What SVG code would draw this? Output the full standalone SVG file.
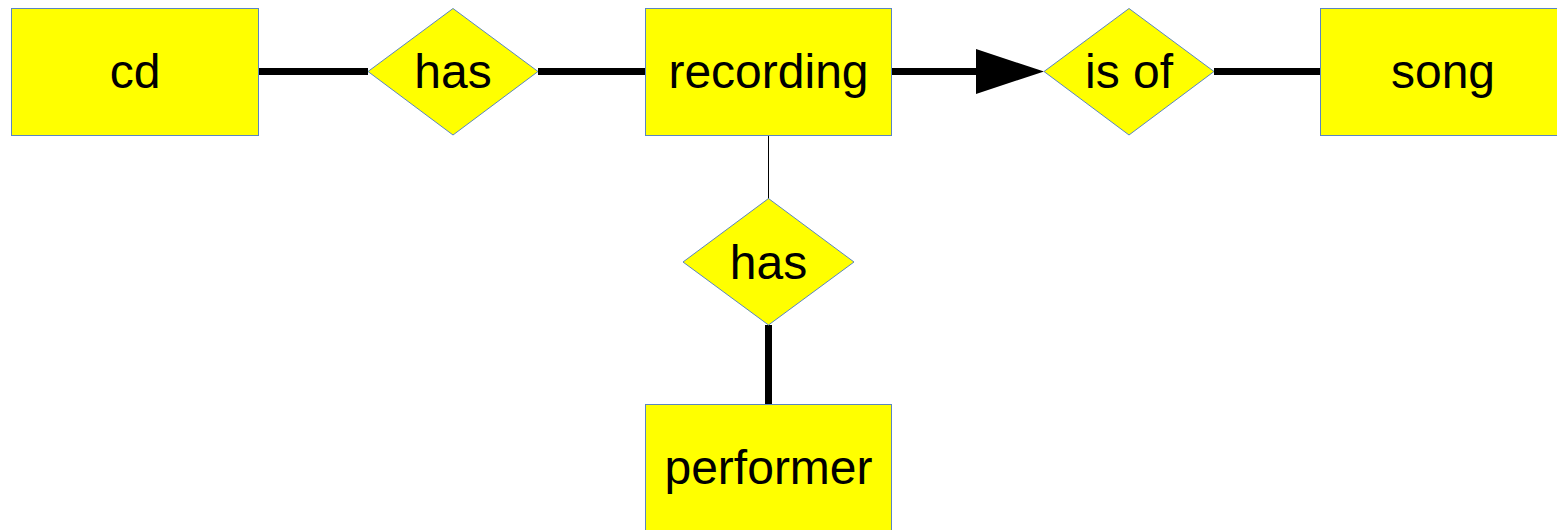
<svg xmlns="http://www.w3.org/2000/svg" width="1557" height="530" viewBox="0 0 1557 530">
<style>
.ent{fill:#ffff00;stroke:#5b86c0;stroke-width:1}
.rel{fill:#ffff00;stroke:#5b86c0;stroke-width:1}
.lbl{font-family:"Liberation Sans",Arial,sans-serif;font-size:48px;fill:#000;text-anchor:middle}
.thick{stroke:#000;stroke-width:7;fill:none}
.thin{stroke:#000;stroke-width:1;fill:none}
</style>
<rect width="1557" height="530" fill="#fff"/>
<g id="connectors">
<line class="thick" x1="258" y1="71.5" x2="368" y2="71.5"/>
<line class="thick" x1="538" y1="71.5" x2="646" y2="71.5"/>
<line class="thick" x1="892" y1="71.5" x2="978" y2="71.5"/>
<polygon points="976,49 1044,71.5 976,94" fill="#000"/>
<line class="thick" x1="1214" y1="71.5" x2="1320" y2="71.5"/>
<line class="thin" x1="768.5" y1="135" x2="768.5" y2="199"/>
<line class="thick" x1="768.5" y1="325" x2="768.5" y2="404"/>
</g>
<g id="cd">
<rect class="ent" x="11.5" y="8.5" width="247" height="127"/>
<text class="lbl" x="135" y="88">cd</text>
</g>
<g id="has1">
<polygon class="rel" points="453,8.5 538,71.5 453,135 368,71.5"/>
<text class="lbl" x="453" y="88">has</text>
</g>
<g id="recording">
<rect class="ent" x="645.5" y="8.5" width="246" height="127"/>
<text class="lbl" x="768.5" y="88">recording</text>
</g>
<g id="isof">
<polygon class="rel" points="1129,8.5 1214,71.5 1129,135 1044,71.5"/>
<text class="lbl" x="1129" y="88">is of</text>
</g>
<g id="song">
<rect class="ent" x="1320.5" y="8.5" width="247" height="127"/>
<text class="lbl" x="1443" y="88">song</text>
</g>
<g id="has2">
<polygon class="rel" points="768.5,198.5 854,262 768.5,325 683,262"/>
<text class="lbl" x="768.5" y="279">has</text>
</g>
<g id="performer">
<rect class="ent" x="645.5" y="404.5" width="246" height="127"/>
<text class="lbl" x="768.5" y="484">performer</text>
</g>
</svg>
